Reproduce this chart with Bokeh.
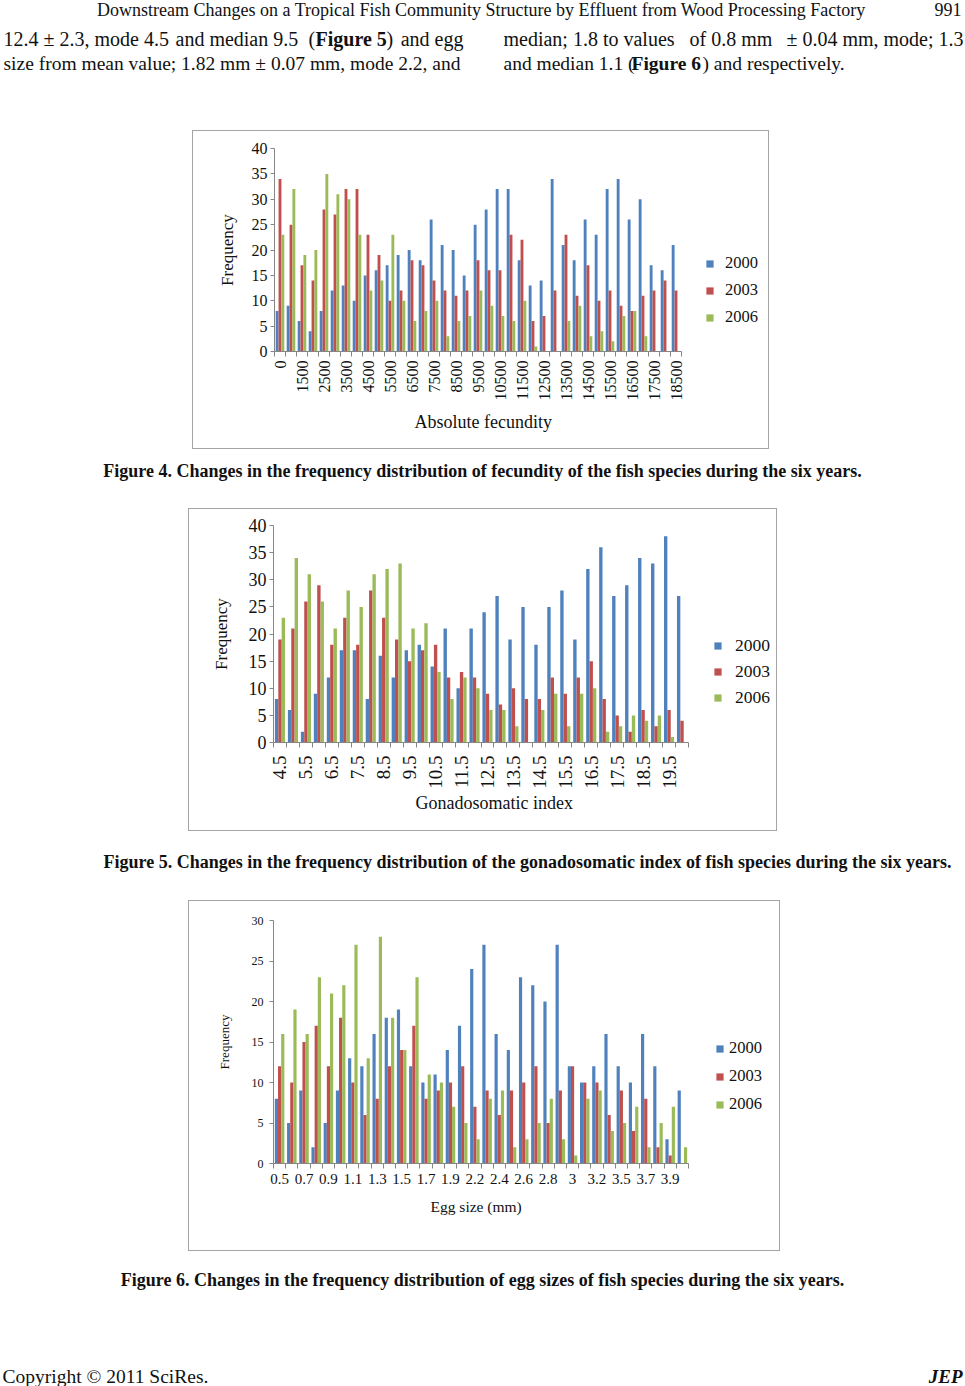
import math
from bokeh.plotting import figure
from bokeh.models import (Range1d, FixedTicker, CustomJSTickFormatter, Legend, LegendItem,
                          Spacer, ColumnDataSource, Title)
from bokeh.transform import dodge
from bokeh.layouts import column, row
from bokeh.core.properties import value
from bokeh.embed import file_html
from bokeh.resources import INLINE

# ---------------- data ----------------
years = ["2000", "2003", "2006"]
colors = ["#4F81BD", "#C0504D", "#9BBB59"]

fec_cats = ["0", "1000", "1500", "2000", "2500", "3000", "3500", "4000", "4500", "5000",
            "5500", "6000", "6500", "7000", "7500", "8000", "8500", "9000", "9500", "10000",
            "10500", "11000", "11500", "12000", "12500", "13000", "13500", "14000", "14500",
            "15000", "15500", "16000", "16500", "17000", "17500", "18000", "18500"]
fec_2000 = [8, 9, 6, 4, 8, 12, 13, 10, 15, 16, 17, 19, 20, 18, 26, 21, 20, 15, 25,
            28, 32, 32, 18, 13, 14, 34, 21, 18, 26, 23, 32, 34, 26, 30, 17, 16, 21]
fec_2003 = [34, 25, 17, 14, 28, 27, 32, 32, 23, 19, 10, 12, 18, 17, 14, 12, 11, 12, 18,
            16, 16, 23, 22, 6, 7, 12, 23, 11, 17, 10, 12, 9, 8, 11, 12, 14, 12]
fec_2006 = [23, 32, 19, 20, 35, 31, 30, 23, 12, 14, 23, 10, 6, 8, 10, 3, 6, 7, 12,
            9, 7, 6, 10, 1, 0, 0, 6, 9, 3, 4, 2, 7, 8, 3, 0, 0, 0]

gsi_cats = ["4.5", "5", "5.5", "6", "6.5", "7", "7.5", "8", "8.5", "9", "9.5", "10", "10.5",
            "11", "11.5", "12", "12.5", "13", "13.5", "14", "14.5", "15", "15.5", "16", "16.5",
            "17", "17.5", "18", "18.5", "19", "19.5", "20"]
gsi_2000 = [8, 6, 2, 9, 12, 17, 17, 8, 16, 12, 17, 18, 14, 21, 10, 21, 24, 27, 19, 25,
            18, 25, 28, 19, 32, 36, 27, 29, 34, 33, 38, 27]
gsi_2003 = [19, 21, 26, 29, 18, 23, 18, 28, 23, 19, 15, 17, 18, 12, 13, 12, 9, 7, 10, 8,
            8, 12, 9, 12, 15, 8, 5, 2, 6, 3, 6, 4]
gsi_2006 = [23, 34, 31, 26, 21, 28, 25, 31, 32, 33, 21, 22, 13, 8, 12, 10, 6, 6, 3, 0,
            6, 9, 3, 9, 10, 2, 3, 5, 4, 5, 1, 0]

egg_cats = ["0.5", "0.6", "0.7", "0.8", "0.9", "1", "1.1", "1.2", "1.3", "1.4", "1.5", "1.6",
            "1.7", "1.8", "1.9", "2.1", "2.2", "2.3", "2.4", "2.5", "2.6", "2.7", "2.8", "2.9",
            "3", "3.1", "3.2", "3.4", "3.5", "3.6", "3.7", "3.8", "3.9", "4"]
egg_2000 = [8, 5, 9, 2, 5, 9, 13, 12, 16, 18, 19, 12, 10, 11, 14, 17, 24, 27, 16, 14,
            23, 22, 20, 27, 12, 10, 12, 16, 12, 10, 16, 12, 3, 9]
egg_2003 = [12, 10, 15, 17, 12, 18, 10, 6, 8, 12, 14, 17, 8, 9, 10, 12, 7, 9, 6, 9,
            10, 12, 5, 9, 12, 10, 10, 6, 9, 4, 8, 2, 1, 0]
egg_2006 = [16, 19, 16, 23, 21, 22, 27, 13, 28, 18, 14, 23, 11, 10, 7, 5, 3, 8, 9, 2,
            3, 5, 8, 3, 1, 8, 9, 4, 5, 7, 2, 5, 7, 2]

SERIF = "Liberation Serif"
AXIS_GREY = "#868686"
INK = "#111111"
PAGE_W = 965


def make_chart(cats, data, box_w, box_h, bl, bt, bb, cat_px, ymax, ystep, bar_w,
               xlabel, st):
    n = len(cats)
    br = 2
    frame_w = box_w - bl - br
    x_end = -0.5 + n * frame_w / cat_px
    p = figure(width=box_w, height=box_h, x_range=Range1d(-0.5, x_end),
               y_range=Range1d(0, ymax), toolbar_location=None, output_backend="svg",
               min_border_left=bl, min_border_top=bt, min_border_right=br,
               min_border_bottom=bb, background_fill_color="white",
               border_fill_alpha=0.0)
    p.xgrid.visible = False
    p.ygrid.visible = False
    p.outline_line_color = None
    p.styles = {"box-shadow": "inset 0 0 0 1px #a4a4a4"}

    src = ColumnDataSource(dict(idx=list(range(n)), a=data[0], b=data[1], c=data[2]))
    rs = []
    for k, (f, col) in enumerate(zip(["a", "b", "c"], colors)):
        r = p.vbar(x=dodge("idx", (k - 1) * bar_w), top=f, width=bar_w, source=src,
                   fill_color=col, line_color=None)
        rs.append(r)

    shown = [c if i % 2 == 0 else "" for i, c in enumerate(cats)]
    xa = p.xaxis[0]
    xa.bounds = (-0.5, n - 0.5)
    xa.ticker = FixedTicker(ticks=list(range(n)),
                            minor_ticks=[i - 0.5 for i in range(n + 1)])
    xa.formatter = CustomJSTickFormatter(
        args=dict(labs=shown),
        code="const i = Math.round(tick); return (i >= 0 && i < labs.length) ? labs[i] : '';")
    xa.major_tick_out = 0
    xa.major_tick_in = 0
    xa.minor_tick_out = 5
    xa.minor_tick_in = 0
    xa.minor_tick_line_color = AXIS_GREY
    xa.axis_line_color = AXIS_GREY
    xa.major_label_text_font = SERIF
    xa.major_label_text_font_size = st["xtick_size"]
    xa.major_label_text_color = INK
    xa.major_label_standoff = st["xtick_standoff"]
    if st["rotate"]:
        xa.major_label_orientation = math.pi / 2

    # x-axis title, left-aligned over the category span
    p.add_layout(Title(text=xlabel, align="left", offset=st["xlab_offset"],
                       vertical_align="top", standoff=st["xlab_standoff"],
                       text_font=SERIF, text_font_style="normal",
                       text_font_size=st["xlab_size"], text_color=INK), "below")

    ya = p.yaxis[0]
    ya.ticker = FixedTicker(ticks=list(range(0, ymax + 1, ystep)))
    ya.minor_tick_out = 0
    ya.minor_tick_in = 0
    ya.major_tick_out = 4
    ya.major_tick_in = 0
    ya.major_tick_line_color = AXIS_GREY
    ya.axis_line_color = AXIS_GREY
    ya.major_label_text_font = SERIF
    ya.major_label_text_font_size = st["ytick_size"]
    ya.major_label_text_color = INK
    ya.major_label_standoff = st["ytick_standoff"]
    ya.axis_label = "Frequency"
    ya.axis_label_text_font = SERIF
    ya.axis_label_text_font_style = "normal"
    ya.axis_label_text_font_size = st["ylab_size"]
    ya.axis_label_text_color = INK
    ya.axis_label_standoff = st["ylab_standoff"]

    leg = Legend(items=[LegendItem(label=y, renderers=[r]) for y, r in zip(years, rs)],
                 location=st["leg_loc"], orientation="vertical",
                 glyph_width=9, glyph_height=9, label_height=20,
                 label_standoff=st["leg_standoff"], spacing=st["leg_spacing"],
                 padding=0, margin=0, border_line_color=None,
                 background_fill_alpha=0.0, label_text_font=SERIF,
                 label_text_font_size=st["leg_size"], label_text_color=INK)
    p.add_layout(leg)
    return p


def band(y0, y1):
    p = figure(width=PAGE_W, height=y1 - y0, x_range=Range1d(0, PAGE_W),
               y_range=Range1d(y1, y0), toolbar_location=None, output_backend="svg",
               x_axis_type=None, y_axis_type=None, min_border=0,
               background_fill_color="white", border_fill_color="white")
    p.outline_line_color = None
    p.xgrid.visible = False
    p.ygrid.visible = False
    return p


def txt(p, x, y, s, size, align="left", style="normal"):
    p.text(x=[x], y=[y], text=[s], text_font=value(SERIF), text_font_size=size,
           text_align=align, text_baseline="middle", text_color=INK,
           text_font_style=style)


# ---------------- top band: header + paragraph ----------------
bA = band(0, 130)
txt(bA, 481, 9, "Downstream Changes on a Tropical Fish Community Structure by Effluent from Wood Processing Factory", "18px", "center")
txt(bA, 961, 9, "991", "18px", "right")
P1 = "20px"
txt(bA, 3, 38, "12.4 \u00b1 2.3, mode 4.5", P1)
txt(bA, 175, 38, "and median 9.5", P1)
txt(bA, 308, 38, "(", P1)
txt(bA, 315, 38, "Figure 5", P1, "left", "bold")
txt(bA, 386, 38, ")", P1)
txt(bA, 463, 38, "and egg", P1, "right")
txt(bA, 3, 63, "size from mean value; 1.82 mm \u00b1 0.07 mm, mode 2.2, and", "19.5px")
txt(bA, 503, 38, "median; 1.8 to values", P1)
txt(bA, 689, 38, "of 0.8 mm", P1)
txt(bA, 963, 38, "\u00b1 0.04 mm, mode; 1.3", P1, "right")
P2 = "19.5px"
txt(bA, 503, 63, "and median 1.1 (", P2)
txt(bA, 631, 63, "Figure 6", P2, "left", "bold")
txt(bA, 702, 63, ") and respectively.", P2)

# ---------------- figure 4 ----------------
fig4 = make_chart(fec_cats, [fec_2000, fec_2003, fec_2006], 577, 319, 82, 18, 98, 407,
                  40, 5, 0.26, "Absolute fecundity",
                  dict(xtick_size="16px", xtick_standoff=4, rotate=True, xlab_size="18px",
                       xlab_offset=140, xlab_standoff=16, ytick_size="16px",
                       ytick_standoff=3, ylab_size="17px", ylab_standoff=12,
                       leg_loc=(431, 24), leg_standoff=11, leg_spacing=7,
                       leg_size="16.5px"))
rowB = row(Spacer(width=192, height=319), fig4, Spacer(width=PAGE_W - 769, height=319))

bC = band(449, 508)
txt(bC, 482, 470, "Figure 4. Changes in the frequency distribution of fecundity of the fish species during the six years.", "18px", "center", "bold")

# ---------------- figure 5 ----------------
fig5 = make_chart(gsi_cats, [gsi_2000, gsi_2003, gsi_2006], 589, 323, 85, 17, 89, 415,
                  40, 5, 0.26, "Gonadosomatic index",
                  dict(xtick_size="19px", xtick_standoff=8, rotate=True, xlab_size="18px",
                       xlab_offset=142, xlab_standoff=2, ytick_size="18px",
                       ytick_standoff=3, ylab_size="17px", ylab_standoff=15,
                       leg_loc=(440, 34), leg_standoff=13, leg_spacing=5,
                       leg_size="17.5px"))
rowD = row(Spacer(width=188, height=323), fig5, Spacer(width=PAGE_W - 777, height=323))

bE = band(831, 900)
txt(bE, 527, 861, "Figure 5. Changes in the frequency distribution of the gonadosomatic index of fish species during the six years.", "18px", "center", "bold")

# ---------------- figure 6 ----------------
fig6 = make_chart(egg_cats, [egg_2000, egg_2003, egg_2006], 592, 351, 85, 20, 88, 415,
                  30, 5, 0.26, "Egg size (mm)",
                  dict(xtick_size="15px", xtick_standoff=5, rotate=False, xlab_size="15.5px",
                       xlab_offset=157, xlab_standoff=22, ytick_size="12px",
                       ytick_standoff=6, ylab_size="13px", ylab_standoff=17,
                       leg_loc=(442, 49), leg_standoff=5, leg_spacing=8,
                       leg_size="16.5px"))
rowF = row(Spacer(width=188, height=351), fig6, Spacer(width=PAGE_W - 780, height=351))

bG = band(1251, 1386)
txt(bG, 482, 1279, "Figure 6. Changes in the frequency distribution of egg sizes of fish species during the six years.", "18px", "center", "bold")
txt(bG, 2, 1376, "Copyright \u00a9 2011 SciRes.", "19.5px")
txt(bG, 962, 1376, "JEP", "19px", "right", "bold italic")

page = column(bA, rowB, bC, rowD, bE, rowF, bG, spacing=0)

open("out.html", "w").write(file_html(page, INLINE, title="Figures 4-6"))
